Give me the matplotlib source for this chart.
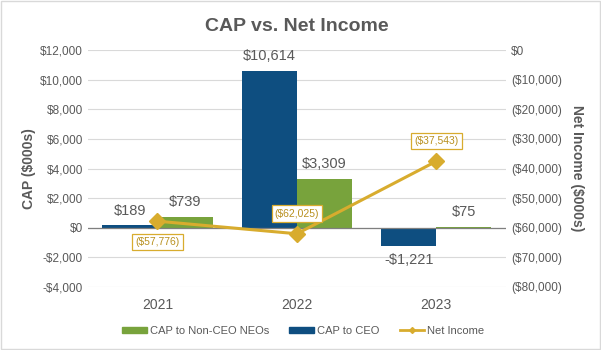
import matplotlib.pyplot as plt
import numpy as np
from matplotlib.lines import Line2D
from matplotlib.patches import Patch

plt.rcParams['font.family'] = ['Liberation Sans', 'DejaVu Sans']

years = ['2021', '2022', '2023']
cap_ceo = [189, 10614, -1221]
cap_neo = [739, 3309, 75]
net_income = [-57776, -62025, -37543]

ceo_labels = ['$189', '$10,614', '-$1,221']
neo_labels = ['$739', '$3,309', '$75']
ni_labels = ['($57,776)', '($62,025)', '($37,543)']

blue = '#0E4E80'
green = '#78A33C'
gold = '#D8AC2E'
grey = '#595959'

fig = plt.figure(figsize=(6.01, 3.5), dpi=100)
ax = fig.add_axes([0.146, 0.18, 0.696, 0.677])
ax2 = ax.twinx()

x = np.arange(len(years))
w = 0.395
ax.bar(x - w / 2, cap_ceo, w, color=blue, zorder=2)
ax.bar(x + w / 2, cap_neo, w, color=green, zorder=2)

for i in range(len(years)):
    if cap_ceo[i] >= 0:
        ax.text(x[i] - w / 2, cap_ceo[i] + 500, ceo_labels[i], ha='center', va='bottom',
                fontsize=10.5, color=grey)
    else:
        ax.text(x[i] - w / 2, cap_ceo[i] - 500, ceo_labels[i], ha='center', va='top',
                fontsize=10.5, color=grey)
    ax.text(x[i] + w / 2, cap_neo[i] + 500, neo_labels[i], ha='center', va='bottom',
            fontsize=10.5, color=grey)

ax.set_ylim(-4000, 12000)
ax.set_xlim(-0.5, 2.5)
ax.set_yticks(np.arange(-4000, 12001, 2000))
ax.set_yticklabels([('-$' if v < 0 else '$') + f'{abs(v):,}' for v in range(-4000, 12001, 2000)])
ax.yaxis.grid(True, color='#D9D9D9', linewidth=0.8, zorder=0)
ax.set_axisbelow(True)
ax.axhline(0, color='#7F7F7F', linewidth=0.9, zorder=3)
ax.set_xticks(x)
ax.set_xticklabels(years)
for s in ax.spines.values():
    s.set_visible(False)
for s in ax2.spines.values():
    s.set_visible(False)
ax.tick_params(axis='both', length=0, colors=grey, labelsize=8.5)
ax.tick_params(axis='x', labelsize=10, pad=8)
ax.set_ylabel('CAP ($000s)', fontsize=10, fontweight='bold', color=grey, labelpad=3)

ax2.plot(x, net_income, color=gold, linewidth=2.2, marker='D', markersize=8, zorder=4)
ax2.set_ylim(-80000, 0)
ax2.set_yticks(np.arange(-80000, 1, 10000))
ax2.set_yticklabels(['$0' if v == 0 else f'(${abs(v):,})' for v in range(-80000, 1, 10000)])
ax2.tick_params(axis='y', length=0, colors=grey, labelsize=8.5)
ax2.set_ylabel('Net Income ($000s)', fontsize=10, fontweight='bold', color=grey,
               rotation=270, labelpad=16)

offsets = [-7000, 6800, 6800]
for i in range(len(years)):
    ax2.text(x[i], net_income[i] + offsets[i], ni_labels[i],
             ha='center', va='center', fontsize=7.5, color='#B8901E', zorder=5,
             bbox=dict(boxstyle='square,pad=0.3', fc='white', ec=gold, lw=0.9))

ax.set_title('CAP vs. Net Income', fontsize=14, fontweight='bold', color=grey, pad=14)

handles = [Patch(color=green, label='CAP to Non-CEO NEOs'),
           Patch(color=blue, label='CAP to CEO'),
           Line2D([0], [0], color=gold, lw=2, marker='D', markersize=3, label='Net Income')]
fig.legend(handles=handles, loc='center', bbox_to_anchor=(0.505, 0.055), ncol=3, frameon=False,
           fontsize=8, labelcolor=grey, handlelength=2.2, handleheight=0.5,
           columnspacing=1.8, handletextpad=0.3)

fig.patches.append(plt.Rectangle((0.002, 0.003), 0.996, 0.994, transform=fig.transFigure,
                                 fill=False, ec='#D9D9D9', lw=1))

fig.savefig('out.png', dpi=100)
